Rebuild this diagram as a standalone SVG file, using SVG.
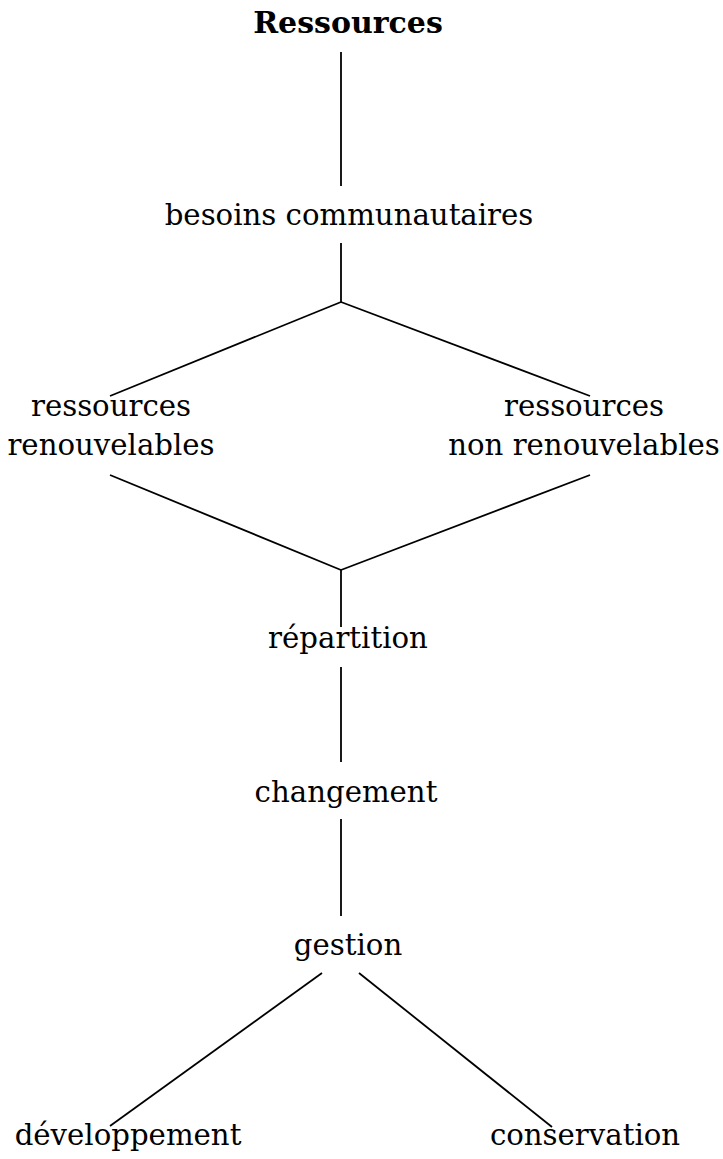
<svg xmlns="http://www.w3.org/2000/svg" width="723" height="1159" viewBox="0 0 723 1159">
<style>
.t{font-family:"DejaVu Serif",serif;font-size:29.2px;fill:#000;text-anchor:middle}
.b{font-family:"DejaVu Serif",serif;font-size:30px;font-weight:bold;fill:#000;text-anchor:middle}
.c line{stroke:#000;stroke-width:1.8;fill:none}
</style>
<rect width="723" height="1159" fill="#fff"/>
<g class="c" id="connectors">
<line x1="341" y1="52" x2="341" y2="186"/>
<line x1="341" y1="243" x2="341" y2="302"/>
<line x1="341" y1="302" x2="110" y2="396"/>
<line x1="341" y1="302" x2="590" y2="396"/>
<line x1="110" y1="475" x2="341" y2="570"/>
<line x1="590" y1="475" x2="341" y2="570"/>
<line x1="341" y1="570" x2="341" y2="627"/>
<line x1="341" y1="667" x2="341" y2="762"/>
<line x1="341" y1="819" x2="341" y2="916"/>
<line x1="322" y1="973" x2="110" y2="1126"/>
<line x1="359" y1="973" x2="552" y2="1127"/>
</g>
<g id="n-ressources"><text class="b" x="348" y="33">Ressources</text></g>
<g id="n-besoins"><text class="t" x="349" y="225">besoins communautaires</text></g>
<g id="n-renouvelables"><text class="t" x="111" y="416">ressources</text><text class="t" x="111" y="455">renouvelables</text></g>
<g id="n-nonrenouvelables"><text class="t" x="584" y="416">ressources</text><text class="t" x="584" y="455">non renouvelables</text></g>
<g id="n-repartition"><text class="t" x="348" y="648">répartition</text></g>
<g id="n-changement"><text class="t" x="346" y="802">changement</text></g>
<g id="n-gestion"><text class="t" x="348" y="955">gestion</text></g>
<g id="n-developpement"><text class="t" x="128" y="1145">développement</text></g>
<g id="n-conservation"><text class="t" x="585" y="1145">conservation</text></g>
</svg>
